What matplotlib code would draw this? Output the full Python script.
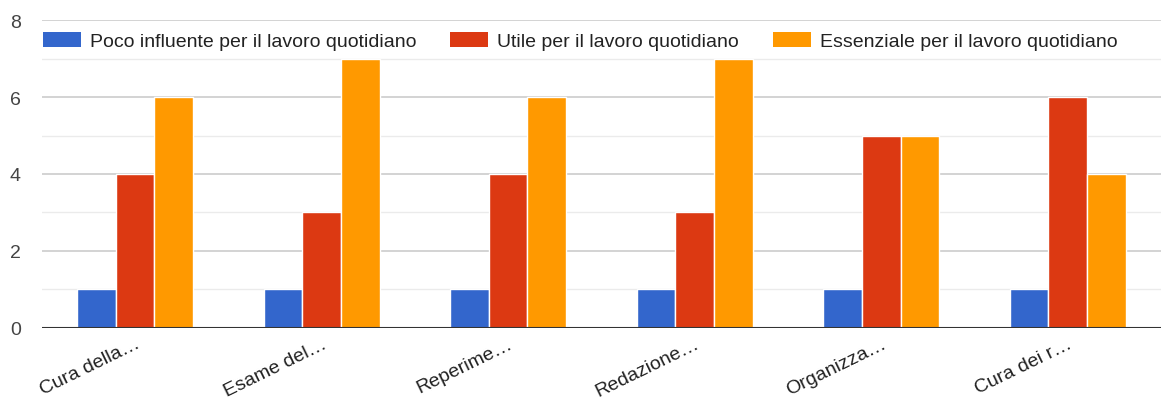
import numpy as np
import matplotlib.pyplot as plt
from matplotlib.patches import Patch

plt.rcParams['font.family'] = ['Liberation Sans', 'DejaVu Sans']

categories = ["Cura della…", "Esame del…", "Reperime…", "Redazione…", "Organizza…", "Cura dei r…"]
series_names = ["Poco influente per il lavoro quotidiano",
                "Utile per il lavoro quotidiano",
                "Essenziale per il lavoro quotidiano"]
poco = [1, 1, 1, 1, 1, 1]
utile = [4, 3, 4, 3, 5, 6]
essenziale = [6, 7, 6, 7, 5, 4]
colors = ["#3366CC", "#DC3912", "#FF9900"]

fig = plt.figure(figsize=(11.61, 4.06), dpi=100)
ax = fig.add_axes([0.036, 0.19, 0.964, 0.758])

x = np.arange(len(categories))
w = 0.207
for i, vals in enumerate([poco, utile, essenziale]):
    ax.bar(x + (i - 1) * w, vals, width=w, color=colors[i],
           edgecolor="white", linewidth=1, zorder=3)

ax.set_xlim(-0.5, len(categories) - 0.5)
ax.set_ylim(0, 8)
ax.set_yticks([0, 2, 4, 6, 8])
ax.set_yticks([1, 3, 5, 7], minor=True)
ax.grid(axis="y", which="major", color="#cccccc", linewidth=1.2, zorder=0)
ax.grid(axis="y", which="minor", color="#ebebeb", linewidth=1, zorder=0)
ax.axhline(0, color="#333333", linewidth=1.5, zorder=4)

for s in ax.spines.values():
    s.set_visible(False)
ax.tick_params(axis="both", which="both", length=0)
ax.tick_params(axis="y", labelsize=14, labelcolor="#444444", pad=15)
ax.set_xticks(x)
ax.set_xticklabels(categories, rotation=26, ha="right", rotation_mode="anchor",
                   fontsize=14, color="#222222")
ax.tick_params(axis="x", pad=5)

handles = [Patch(facecolor=c, edgecolor="none") for c in colors]
ax.legend(handles, series_names, ncol=3, loc="center left",
          bbox_to_anchor=(-0.006, 0.932), frameon=False, fontsize=14,
          handlelength=1.95, handleheight=0.85, handletextpad=0.46,
          columnspacing=1.75, borderaxespad=0, labelcolor="#222222")

fig.savefig("out.png", dpi=100)
